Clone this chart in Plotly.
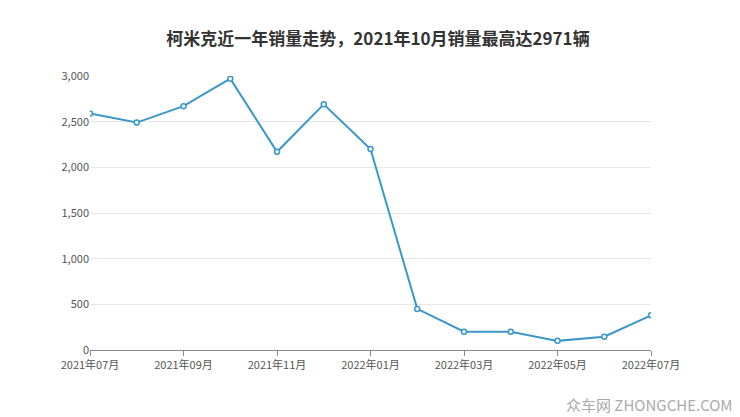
import plotly.graph_objects as go

months = ["2021年07月", "2021年08月", "2021年09月", "2021年10月", "2021年11月", "2021年12月",
          "2022年01月", "2022年02月", "2022年03月", "2022年04月", "2022年05月", "2022年06月", "2022年07月"]
sales = [2590, 2490, 2670, 2971, 2170, 2690, 2200, 450, 200, 200, 100, 145, 380]
idx = list(range(len(months)))

fig = go.Figure(go.Scatter(
    x=idx, y=sales, mode="lines+markers",
    line=dict(color="#3a97c9", width=2),
    marker=dict(size=5, color="white", line=dict(color="#3a97c9", width=1.5)),
))

fig.update_layout(
    width=740, height=417,
    paper_bgcolor="white", plot_bgcolor="white",
    margin=dict(l=82, r=97, t=68, b=75),
    font=dict(family="Noto Sans CJK SC", size=11, color="#555"),
    title=dict(text="<b>柯米克近一年销量走势，2021年10月销量最高达2971辆</b>", x=0.5, y=0.94,
               xanchor="center", font=dict(size=17, color="#333", family="Noto Sans CJK SC")),
    showlegend=False,
)
fig.update_xaxes(range=[0, 12], tickvals=idx[::2], ticktext=months[::2],
                 showgrid=False, showline=True, linecolor="#888", ticks="outside",
                 ticklen=5, tickcolor="#888")
fig.update_yaxes(range=[0, 3000], dtick=500, tickformat=",", gridcolor="#e6e6e6",
                 zeroline=False, showline=False)
fig.add_annotation(text="众车网 ZHONGCHE.COM", xref="paper", yref="paper", x=1.15, y=-0.2,
                   xanchor="right", yanchor="middle", showarrow=False,
                   font=dict(size=15, color="#aaa"))

fig.write_html("out.html")
